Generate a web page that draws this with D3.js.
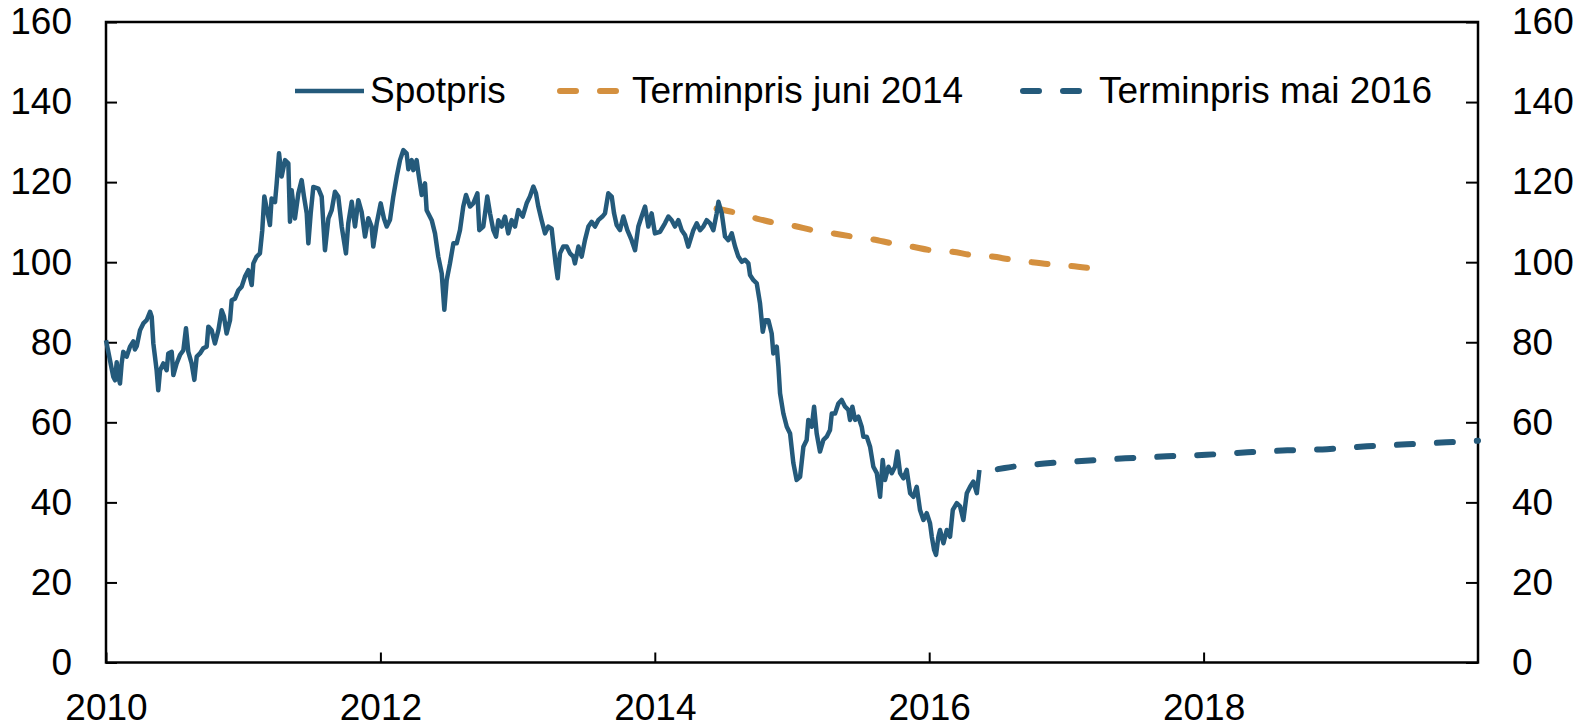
<!DOCTYPE html>
<html>
<head>
<meta charset="utf-8">
<script src="https://cdn.jsdelivr.net/npm/d3@7"></script>
<style>
  body { margin: 0; background: #fff; }
  svg text { font-family: "Liberation Sans", Arial, sans-serif; fill: #000; }
</style>
</head>
<body>
<script>
var width = 1584,
    height = 725;

var blue = '#245a7b',
    orange = '#d4903f';

// spot price (decimal year, USD/fat)
var spotYears = [
  2010.000, 2010.029, 2010.053, 2010.066, 2010.078, 2010.090, 2010.102, 2010.114, 2010.126, 2010.151,
  2010.175, 2010.199, 2010.211, 2010.224, 2010.248, 2010.272, 2010.296, 2010.321, 2010.333, 2010.345,
  2010.357, 2010.369, 2010.381, 2010.394, 2010.418, 2010.442, 2010.454, 2010.479, 2010.491, 2010.515,
  2010.539, 2010.564, 2010.583, 2010.600, 2010.624, 2010.644, 2010.661, 2010.685, 2010.709, 2010.734,
  2010.746, 2010.770, 2010.794, 2010.819, 2010.843, 2010.860, 2010.879, 2010.904, 2010.916, 2010.940,
  2010.965, 2010.989, 2011.013, 2011.037, 2011.062, 2011.074, 2011.098, 2011.122, 2011.139, 2011.154,
  2011.171, 2011.195, 2011.207, 2011.232, 2011.244, 2011.261, 2011.280, 2011.305, 2011.329, 2011.341,
  2011.353, 2011.377, 2011.402, 2011.426, 2011.443, 2011.463, 2011.475, 2011.492, 2011.511, 2011.548,
  2011.572, 2011.596, 2011.621, 2011.645, 2011.669, 2011.693, 2011.718, 2011.749, 2011.766, 2011.791,
  2011.815, 2011.839, 2011.863, 2011.888, 2011.912, 2011.936, 2011.948, 2011.973, 2012.002, 2012.026,
  2012.046, 2012.070, 2012.094, 2012.119, 2012.143, 2012.167, 2012.191, 2012.204, 2012.228, 2012.240,
  2012.264, 2012.277, 2012.301, 2012.325, 2012.337, 2012.374, 2012.398, 2012.422, 2012.447, 2012.466,
  2012.483, 2012.507, 2012.532, 2012.556, 2012.580, 2012.604, 2012.624, 2012.653, 2012.677, 2012.707,
  2012.721, 2012.750, 2012.779, 2012.799, 2012.823, 2012.843, 2012.860, 2012.884, 2012.908, 2012.932,
  2012.957, 2012.981, 2013.005, 2013.037, 2013.066, 2013.090, 2013.115, 2013.134, 2013.151, 2013.175,
  2013.200, 2013.224, 2013.248, 2013.260, 2013.277, 2013.292, 2013.309, 2013.333, 2013.358, 2013.382,
  2013.406, 2013.418, 2013.443, 2013.467, 2013.491, 2013.516, 2013.540, 2013.564, 2013.588, 2013.618,
  2013.637, 2013.661, 2013.686, 2013.703, 2013.722, 2013.746, 2013.771, 2013.800, 2013.831, 2013.856,
  2013.880, 2013.904, 2013.929, 2013.953, 2013.977, 2014.001, 2014.038, 2014.074, 2014.099, 2014.123,
  2014.147, 2014.172, 2014.196, 2014.220, 2014.244, 2014.281, 2014.306, 2014.330, 2014.354, 2014.378,
  2014.403, 2014.427, 2014.451, 2014.464, 2014.488, 2014.512, 2014.536, 2014.561, 2014.585, 2014.609,
  2014.634, 2014.658, 2014.682, 2014.694, 2014.719, 2014.743, 2014.767, 2014.787, 2014.804, 2014.828,
  2014.852, 2014.864, 2014.889, 2014.901, 2014.913, 2014.937, 2014.962, 2014.986, 2015.010, 2015.034,
  2015.059, 2015.083, 2015.107, 2015.119, 2015.144, 2015.161, 2015.180, 2015.204, 2015.229, 2015.253,
  2015.277, 2015.290, 2015.314, 2015.338, 2015.362, 2015.387, 2015.411, 2015.423, 2015.440, 2015.460,
  2015.484, 2015.508, 2015.520, 2015.545, 2015.569, 2015.593, 2015.618, 2015.642, 2015.661, 2015.678,
  2015.703, 2015.727, 2015.751, 2015.768, 2015.788, 2015.812, 2015.836, 2015.861, 2015.885, 2015.909,
  2015.933, 2015.958, 2015.982, 2016.006, 2016.019, 2016.036, 2016.050, 2016.067, 2016.079, 2016.104,
  2016.128, 2016.152, 2016.172, 2016.201, 2016.225, 2016.249, 2016.274, 2016.298, 2016.322, 2016.347,
  2016.366
];
var spotValues = [
  80.5, 75.5, 71.4, 70.5, 75.0, 71.4, 69.7, 74.7, 77.6, 76.4,
  78.9, 80.2, 78.2, 79.0, 83.0, 84.7, 85.5, 87.6, 86.4, 79.7,
  76.4, 73.0, 68.0, 73.0, 74.7, 73.0, 77.2, 77.6, 71.8, 74.7,
  76.8, 78.0, 83.5, 77.6, 74.7, 70.6, 76.4, 77.2, 78.5, 78.9,
  83.9, 83.0, 79.7, 83.0, 88.0, 86.4, 82.2, 85.5, 90.5, 90.9,
  93.0, 93.9, 96.4, 98.0, 94.3, 99.7, 101.4, 102.2, 108.0, 116.4,
  113.4, 109.3, 115.9, 115.0, 119.7, 127.2, 121.4, 125.5, 124.7, 110.1,
  118.0, 110.9, 117.2, 120.5, 116.4, 112.2, 104.7, 112.2, 118.8, 118.4,
  116.4, 103.0, 110.9, 113.0, 117.6, 116.4, 108.9, 102.2, 109.7, 115.1,
  108.9, 115.5, 112.6, 106.4, 111.0, 108.9, 103.9, 109.7, 114.7, 110.9,
  108.9, 110.6, 116.4, 121.4, 125.5, 128.0, 127.2, 123.2, 125.5, 123.0,
  125.5, 122.2, 116.8, 119.7, 113.0, 110.5, 107.2, 101.4, 97.2, 88.1,
  95.5, 99.7, 104.7, 104.7, 108.0, 113.9, 116.8, 113.9, 114.7, 117.2,
  108.0, 108.9, 116.4, 112.2, 108.0, 106.4, 110.5, 108.9, 111.4, 107.2,
  110.5, 108.9, 113.0, 111.4, 114.7, 116.4, 118.9, 117.2, 113.9, 110.5,
  107.2, 108.9, 108.4, 104.7, 99.7, 96.0, 102.2, 103.9, 103.9, 102.2,
  101.4, 99.7, 103.9, 101.4, 105.5, 108.9, 110.1, 108.9, 110.5, 111.4,
  112.2, 117.2, 116.4, 112.2, 109.3, 108.0, 111.4, 108.0, 105.5, 103.0,
  108.9, 111.4, 113.9, 108.9, 112.2, 107.2, 107.6, 109.7, 111.4, 110.5,
  108.9, 110.5, 108.0, 106.8, 103.9, 108.0, 109.7, 108.0, 108.9, 110.5,
  109.7, 108.0, 112.2, 115.1, 112.2, 106.4, 105.5, 107.2, 103.9, 101.4,
  100.1, 100.6, 99.7, 96.8, 95.5, 94.7, 89.7, 82.6, 85.5, 85.5,
  82.2, 77.2, 78.9, 73.9, 67.2, 62.2, 58.9, 57.2, 49.8, 45.6,
  46.4, 53.9, 55.6, 60.6, 58.9, 63.9, 57.2, 52.7, 55.6, 56.4,
  58.1, 62.2, 62.2, 64.7, 65.6, 63.9, 63.1, 60.6, 63.9, 60.6,
  61.4, 58.9, 56.4, 56.4, 53.9, 48.9, 47.3, 41.4, 50.6, 45.6,
  48.9, 47.3, 48.9, 52.7, 47.3, 46.0, 48.1, 42.3, 41.4, 43.9,
  38.1, 35.6, 37.3, 34.8, 31.4, 28.1, 26.9, 31.4, 33.1, 29.8,
  33.1, 31.4, 38.1, 39.8, 39.0, 35.6, 42.3, 43.9, 45.2, 42.3,
  48.1
];

// forward curve June 2014
var fwd2014Years = [2014.45, 2014.57, 2014.72, 2014.85, 2015.01, 2015.15, 2015.30, 2015.44, 2015.59, 2015.73,
                    2015.87, 2016.01, 2016.17, 2016.31, 2016.46, 2016.59, 2016.75, 2016.88, 2017.02, 2017.15];
var fwd2014Values = [113.4, 112.5, 111.1, 110.0, 109.1, 108.0, 107.2, 106.4, 105.7, 104.7,
                     103.9, 103.0, 102.6, 101.8, 101.4, 100.7, 100.0, 99.5, 99.1, 98.6];

// forward curve May 2016
var fwd2016Years = [2016.50, 2016.55, 2016.84, 2017.14, 2017.43, 2017.73, 2018.02, 2018.32, 2018.61, 2018.90,
                    2019.19, 2019.48, 2019.77, 2020.00];
var fwd2016Values = [48.3, 48.6, 49.7, 50.4, 51.0, 51.5, 51.9, 52.5, 53.0, 53.3,
                     54.0, 54.5, 55.0, 55.4];

var yTicks = [0, 20, 40, 60, 80, 100, 120, 140, 160];
var xTicks = [2010, 2012, 2014, 2016, 2018];

var legendLabels = ['Spotpris', 'Terminpris juni 2014', 'Terminpris mai 2016'];

var plot = { left: 106, right: 1478, top: 22, bottom: 662.5 };

var svg = d3.select('body')
  .append('svg')
  .attr('width', width)
  .attr('height', height);

var xScale = d3.scaleLinear()
  .domain([2010, 2020])
  .range([plot.left, plot.right]);

var yScale = d3.scaleLinear()
  .domain([0, 160])
  .range([plot.bottom, plot.top]);

var fontSize = 37;

var yAxisLeft = d3.axisLeft(yScale)
  .tickValues(yTicks)
  .tickSizeInner(-11)
  .tickSizeOuter(0)
  .tickPadding(34);

var yAxisRight = d3.axisRight(yScale)
  .tickValues(yTicks)
  .tickSizeInner(-12)
  .tickSizeOuter(0)
  .tickPadding(34);

var xAxis = d3.axisBottom(xScale)
  .tickValues(xTicks)
  .tickFormat(d3.format('d'))
  .tickSizeInner(-10)
  .tickSizeOuter(0)
  .tickPadding(31);

function styleAxis(g) {
  g.select('.domain').remove();
  g.selectAll('.tick line').attr('stroke', '#000').attr('stroke-width', 2);
  g.selectAll('.tick text')
    .style('font-size', fontSize + 'px')
    .style('font-family', '"Liberation Sans", Arial, sans-serif')
    .attr('fill', '#000');
}

svg.append('g')
  .attr('transform', 'translate(' + plot.left + ',0)')
  .call(yAxisLeft)
  .call(styleAxis);

svg.append('g')
  .attr('transform', 'translate(' + plot.right + ',0)')
  .call(yAxisRight)
  .call(styleAxis);

svg.append('g')
  .attr('transform', 'translate(0,' + plot.bottom + ')')
  .call(xAxis)
  .call(styleAxis);

// frame
svg.append('rect')
  .attr('x', plot.left)
  .attr('y', plot.top)
  .attr('width', plot.right - plot.left)
  .attr('height', plot.bottom - plot.top)
  .attr('fill', 'none')
  .attr('stroke', '#000')
  .attr('stroke-width', 2.5);

var line = d3.line()
  .x(d => xScale(d[0]))
  .y(d => yScale(d[1]));

svg.append('path')
  .datum(d3.zip(fwd2014Years, fwd2014Values))
  .attr('d', line.curve(d3.curveMonotoneX))
  .attr('fill', 'none')
  .attr('stroke', orange)
  .attr('stroke-width', 6)
  .attr('stroke-linecap', 'round')
  .attr('stroke-dasharray', '16,24');

svg.append('path')
  .datum(d3.zip(fwd2016Years, fwd2016Values))
  .attr('d', line.curve(d3.curveMonotoneX))
  .attr('fill', 'none')
  .attr('stroke', blue)
  .attr('stroke-width', 6)
  .attr('stroke-linecap', 'round')
  .attr('stroke-dasharray', '16,24');

svg.append('path')
  .datum(d3.zip(spotYears, spotValues))
  .attr('d', line.curve(d3.curveLinear))
  .attr('fill', 'none')
  .attr('stroke', blue)
  .attr('stroke-width', 4.5)
  .attr('stroke-linejoin', 'round');

// legend
var legendY = 91;
var legendItems = [
  { label: legendLabels[0], x0: 295, x1: 364, tx: 370, color: blue, dash: null, w: 4.5, cap: 'butt' },
  { label: legendLabels[1], x0: 560, x1: 616, tx: 632, color: orange, dash: '16,24', w: 6, cap: 'round' },
  { label: legendLabels[2], x0: 1023, x1: 1079, tx: 1099, color: blue, dash: '16,24', w: 6, cap: 'round' }
];

var legend = svg.append('g');
legendItems.forEach(function(it) {
  legend.append('line')
    .attr('x1', it.x0).attr('x2', it.x1)
    .attr('y1', legendY).attr('y2', legendY)
    .attr('stroke', it.color)
    .attr('stroke-width', it.w)
    .attr('stroke-linecap', it.cap)
    .attr('stroke-dasharray', it.dash);
  legend.append('text')
    .attr('x', it.tx)
    .attr('y', legendY + 12)
    .style('font-size', fontSize + 'px')
    .text(it.label);
});
</script>
</body>
</html>
